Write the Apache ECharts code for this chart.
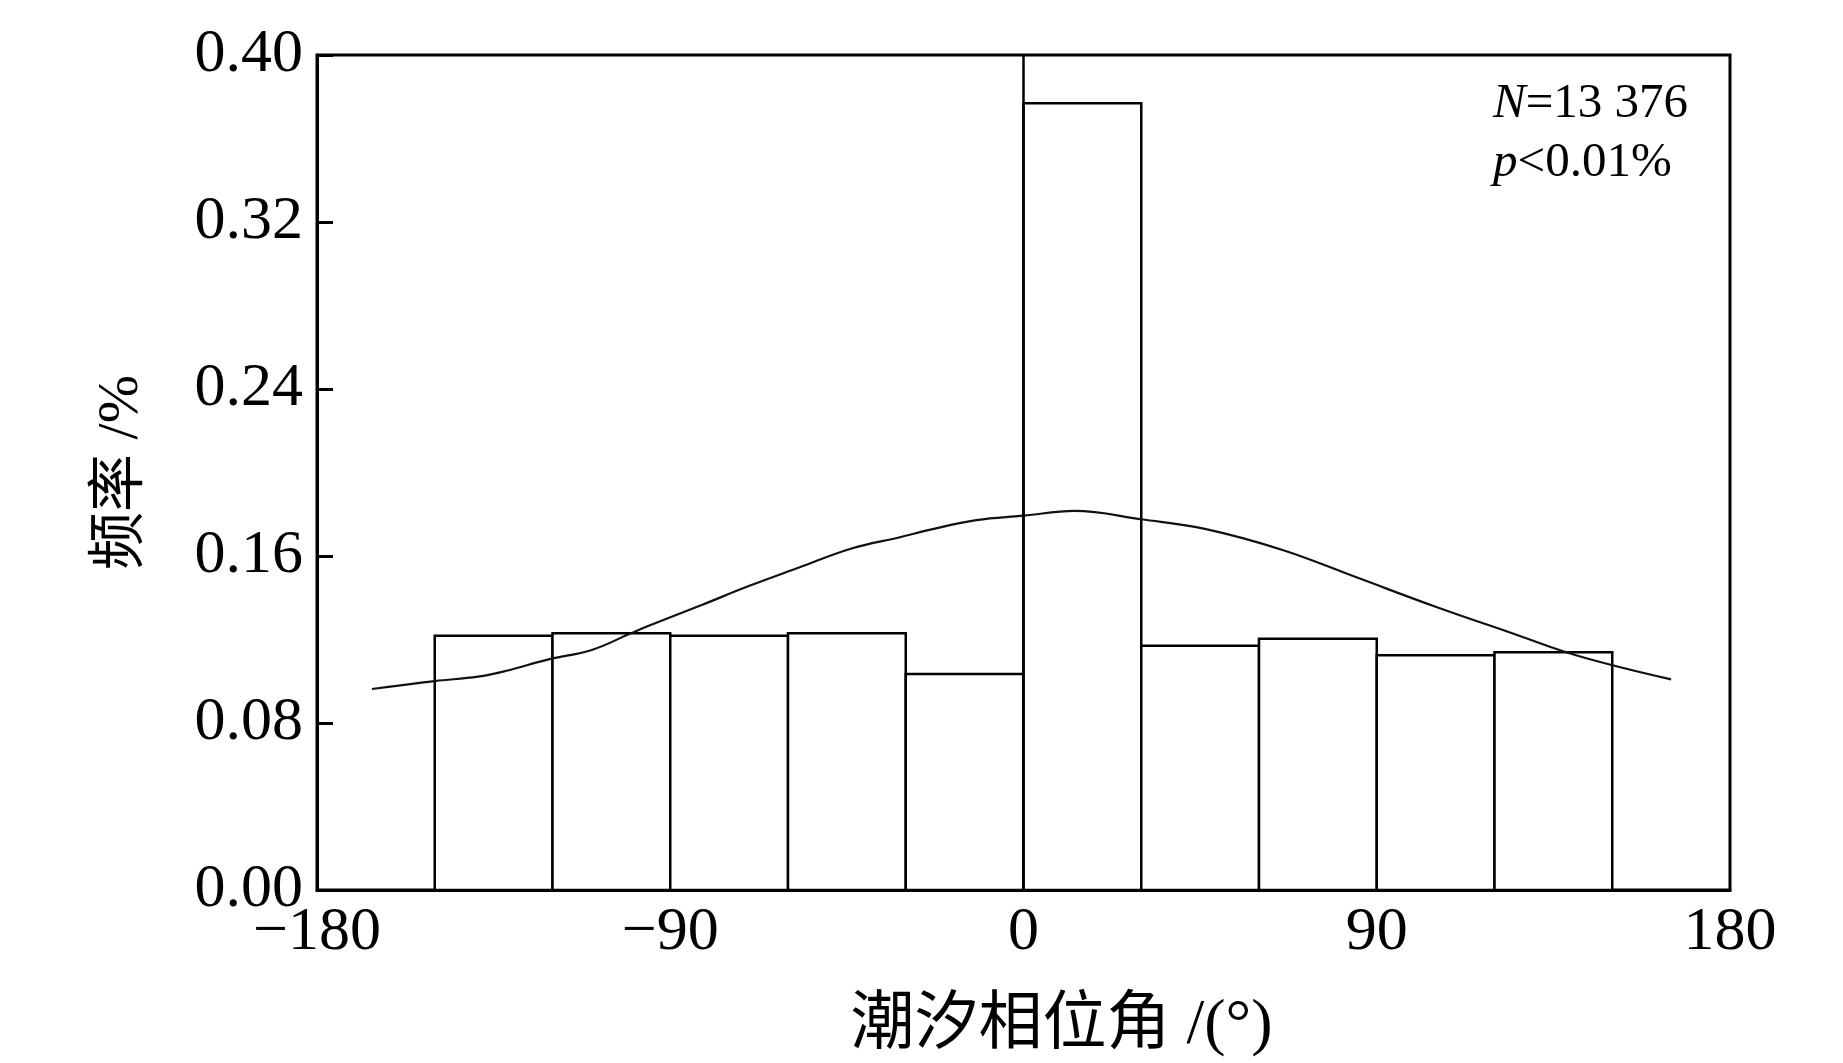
<!DOCTYPE html>
<html>
<head>
<meta charset="utf-8">
<script src="https://cdn.jsdelivr.net/npm/echarts@6/dist/echarts.min.js"></script>
<style>
html,body{margin:0;padding:0;background:#fff;}
#chart{width:1843px;height:1063px;}
</style>
</head>
<body>
<div id="chart"></div>
<script>
// Histogram bins (tidal phase angle, degrees)
const binStart = [-150, -120, -90, -60, -30, 0, 30, 60, 90, 120];
const binWidth = 30;
// Frequency values (%)
const freq = [0.1218, 0.1230, 0.1218, 0.1230, 0.1035, 0.3769, 0.1170, 0.1204, 0.1124, 0.1139];
// Fitted curve
const curveX = [-166, -150, -139, -132, -121, -110, -100, -95, -82, -70, -57, -44, -31.5, -24, -12, 0, 13, 30, 46.5, 66, 85.5, 105, 124.5, 141.4, 165];
const curveY = [0.0963, 0.1001, 0.1022, 0.1049, 0.1105, 0.1150, 0.1230, 0.1269, 0.1365, 0.1456, 0.1546, 0.1635, 0.1690, 0.1725, 0.1772, 0.1793, 0.1816, 0.1776, 0.1729, 0.1629, 0.1493, 0.1357, 0.1230, 0.1121, 0.1009];
// Axis ticks
const xTickValues = [-180, -90, 0, 90, 180];
const yTickValues = [0, 0.08, 0.16, 0.24, 0.32, 0.40];
const xName = '潮汐相位角 /(°)';
const yName = '频率 /%';
const statN = '13 376';
const statP = '0.01%';

const serif = '"Liberation Serif", "Times New Roman", "Noto Sans CJK SC", serif';
const chart = echarts.init(document.getElementById('chart'), null, {renderer: 'canvas'});

const barData = binStart.map((s, i) => [s, s + binWidth, freq[i]]);
const lineData = curveX.map((x, i) => [x, curveY[i]]);

chart.setOption({
  animation: false,
  backgroundColor: '#fff',
  grid: {
    left: 317, top: 55, width: 1413, height: 836,
    show: true, borderColor: '#000', borderWidth: 3, backgroundColor: 'transparent'
  },
  title: {
    left: 1488, top: 70,
    text: '{i|N}=' + statN + '\n{i|p}<' + statP,
    textStyle: {
      fontFamily: serif, fontSize: 49, fontWeight: 'normal', color: '#000', lineHeight: 59,
      rich: { i: { fontStyle: 'italic', fontFamily: serif, fontSize: 49, color: '#000', lineHeight: 59 } }
    }
  },
  xAxis: {
    type: 'value', min: xTickValues[0], max: xTickValues[xTickValues.length - 1], interval: 90,
    name: xName, nameLocation: 'middle', nameGap: 104,
    nameTextStyle: { fontFamily: serif, fontSize: 64, color: '#000', padding: [0, 0, 0, 76] },
    axisLine: { show: true, onZero: false, lineStyle: { color: '#000', width: 3 } },
    axisTick: { show: false },
    splitLine: { show: false },
    axisLabel: {
      color: '#000', fontFamily: serif, fontSize: 62, margin: 12,
      formatter: v => (v < 0 ? '\u2212' + Math.abs(v) : String(v))
    }
  },
  yAxis: {
    type: 'value', min: yTickValues[0], max: yTickValues[yTickValues.length - 1], interval: 0.08,
    name: yName, nameLocation: 'middle', nameGap: 166, nameRotate: 90,
    nameTextStyle: { fontFamily: serif, fontSize: 58, color: '#000' },
    axisLine: { show: true, onZero: false, lineStyle: { color: '#000', width: 3 } },
    axisTick: { show: true, inside: true, length: 16, lineStyle: { color: '#000', width: 3 } },
    splitLine: { show: false },
    axisLabel: {
      color: '#000', fontFamily: serif, fontSize: 62, margin: 14,
      formatter: v => v.toFixed(2)
    }
  },
  series: [
    {
      type: 'custom',
      z: 2,
      data: barData,
      encode: { x: [0, 1], y: 2 },
      renderItem: function (params, api) {
        const x0 = api.value(0), x1 = api.value(1), y = api.value(2);
        const p0 = api.coord([x0, y]);
        const p1 = api.coord([x1, 0]);
        return {
          type: 'rect',
          shape: { x: p0[0], y: p0[1], width: p1[0] - p0[0], height: p1[1] - p0[1] },
          style: { fill: '#fff', stroke: '#000', lineWidth: 2.5 }
        };
      },
      markLine: {
        silent: true, symbol: 'none', label: { show: false },
        lineStyle: { color: '#000', width: 2.5, type: 'solid' },
        data: [{ xAxis: 0 }]
      }
    },
    {
      type: 'line',
      z: 3,
      data: lineData,
      smooth: 0.4,
      showSymbol: false,
      lineStyle: { color: '#111', width: 2.2 }
    }
  ]
});
</script>
</body>
</html>
